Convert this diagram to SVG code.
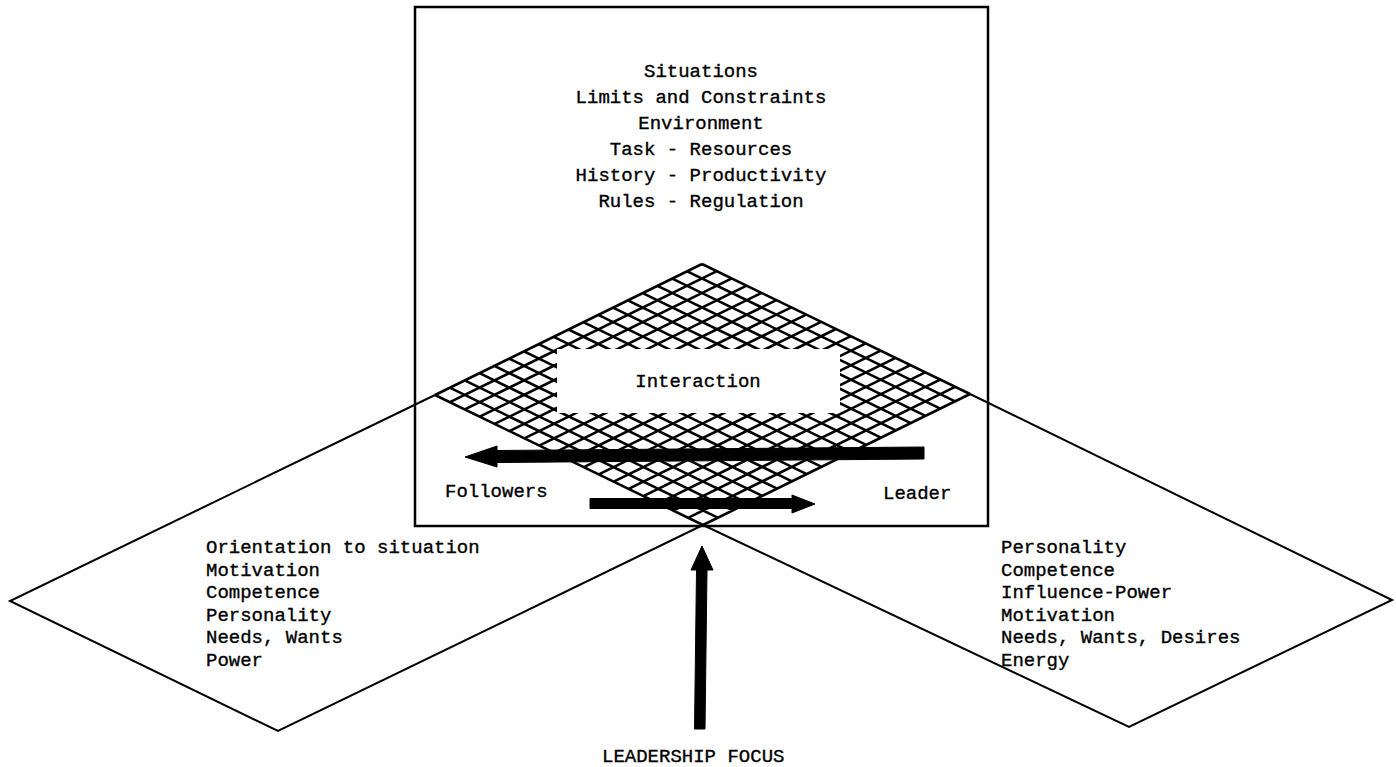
<svg xmlns="http://www.w3.org/2000/svg" width="1396" height="767" viewBox="0 0 1396 767">
  <style>
    .txt { font-family: "Liberation Mono", "DejaVu Sans Mono", monospace; font-size: 19px; fill: #000; stroke: #000; stroke-width: 0.35; }
    .mid { text-anchor: middle; }
    .edge { fill: none; stroke: #000; stroke-width: 2; stroke-linejoin: miter; }
    .frame { fill: none; stroke: #000; stroke-width: 2.5; }
    .mesh { fill: none; stroke: #000; stroke-width: 2.6; stroke-linecap: butt; }
    .arrow { fill: #000; stroke: #000; stroke-width: 1; stroke-linejoin: round; }
  </style>

  <!-- Situation box -->
  <g id="situation">
    <rect class="frame" x="415" y="7" width="573" height="519"/>
    <text class="txt mid" x="701" y="77">Situations</text>
    <text class="txt mid" x="701" y="103">Limits and Constraints</text>
    <text class="txt mid" x="701" y="129">Environment</text>
    <text class="txt mid" x="701" y="155">Task - Resources</text>
    <text class="txt mid" x="701" y="181">History - Productivity</text>
    <text class="txt mid" x="701" y="207">Rules - Regulation</text>
    <text class="txt" x="445" y="497">Followers</text>
    <text class="txt" x="883" y="499">Leader</text>
  </g>

  <!-- Followers diamond (outside part of its outline) -->
  <g id="followers">
    <polyline class="edge" points="435,395 10,601 278,731 703,525"/>
    <text class="txt" x="206" y="553">Orientation to situation</text>
    <text class="txt" x="206" y="575.5">Motivation</text>
    <text class="txt" x="206" y="598">Competence</text>
    <text class="txt" x="206" y="620.5">Personality</text>
    <text class="txt" x="206" y="643">Needs, Wants</text>
    <text class="txt" x="206" y="665.5">Power</text>
  </g>

  <!-- Leader diamond -->
  <g id="leader">
    <polyline class="edge" points="970,394 1392,600 1129,727 703,525"/>
    <text class="txt" x="1001" y="553">Personality</text>
    <text class="txt" x="1001" y="575.5">Competence</text>
    <text class="txt" x="1001" y="598">Influence-Power</text>
    <text class="txt" x="1001" y="620.5">Motivation</text>
    <text class="txt" x="1001" y="643">Needs, Wants, Desires</text>
    <text class="txt" x="1001" y="665.5">Energy</text>
  </g>

  <!-- Interaction zone: cross-hatched overlap of the two diamonds -->
  <g id="interaction">
    <path class="mesh" d="
      M702 264L435 395 M716.9 271.2L449.9 402.2 M731.8 278.4L464.8 409.4
      M746.7 285.7L479.7 416.7 M761.6 292.9L494.6 423.9 M776.4 300.1L509.4 431.1
      M791.3 307.3L524.3 438.3 M806.2 314.6L539.2 445.6 M821.1 321.8L554.1 452.8
      M836 329L569 460 M850.9 336.2L583.9 467.2 M865.8 343.4L598.8 474.4
      M880.7 350.7L613.7 481.7 M895.6 357.9L628.6 488.9 M910.4 365.1L643.4 496.1
      M925.3 372.3L658.3 503.3 M940.2 379.6L673.2 510.6 M955.1 386.8L688.1 517.8
      M970 394L703 525
      M702 264L970 394 M687.2 271.3L955.2 401.3 M672.3 278.6L940.3 408.6
      M657.5 285.8L925.5 415.8 M642.7 293.1L910.7 423.1 M627.8 300.4L895.8 430.4
      M613 307.7L881 437.7 M598.2 314.9L866.2 444.9 M583.3 322.2L851.3 452.2
      M568.5 329.5L836.5 459.5 M553.7 336.8L821.7 466.8 M538.8 344.1L806.8 474.1
      M524 351.3L792 481.3 M509.2 358.6L777.2 488.6 M494.3 365.9L762.3 495.9
      M479.5 373.2L747.5 503.2 M464.7 380.4L732.7 510.4 M449.8 387.7L717.8 517.7
      M435 395L703 525"/>
    <rect x="557" y="349" width="283" height="64" fill="#fff"/>
    <text class="txt mid" x="698" y="387">Interaction</text>
  </g>

  <!-- Arrows -->
  <g id="connectors">
    <polygon class="arrow" points="924,447 497,450.5 497,446 465,457 497,467 497,462.5 924,459"/>
    <polygon class="arrow" points="590,498.5 792,498.5 792,495 815,504 792,513 792,508.5 590,508.5"/>
    <polygon class="arrow" points="702,546 713,570 707,570 705,729 694.5,729 696.5,570 691,570"/>
  </g>

  <g id="focus">
    <text class="txt" x="602" y="762">LEADERSHIP FOCUS</text>
  </g>
</svg>
